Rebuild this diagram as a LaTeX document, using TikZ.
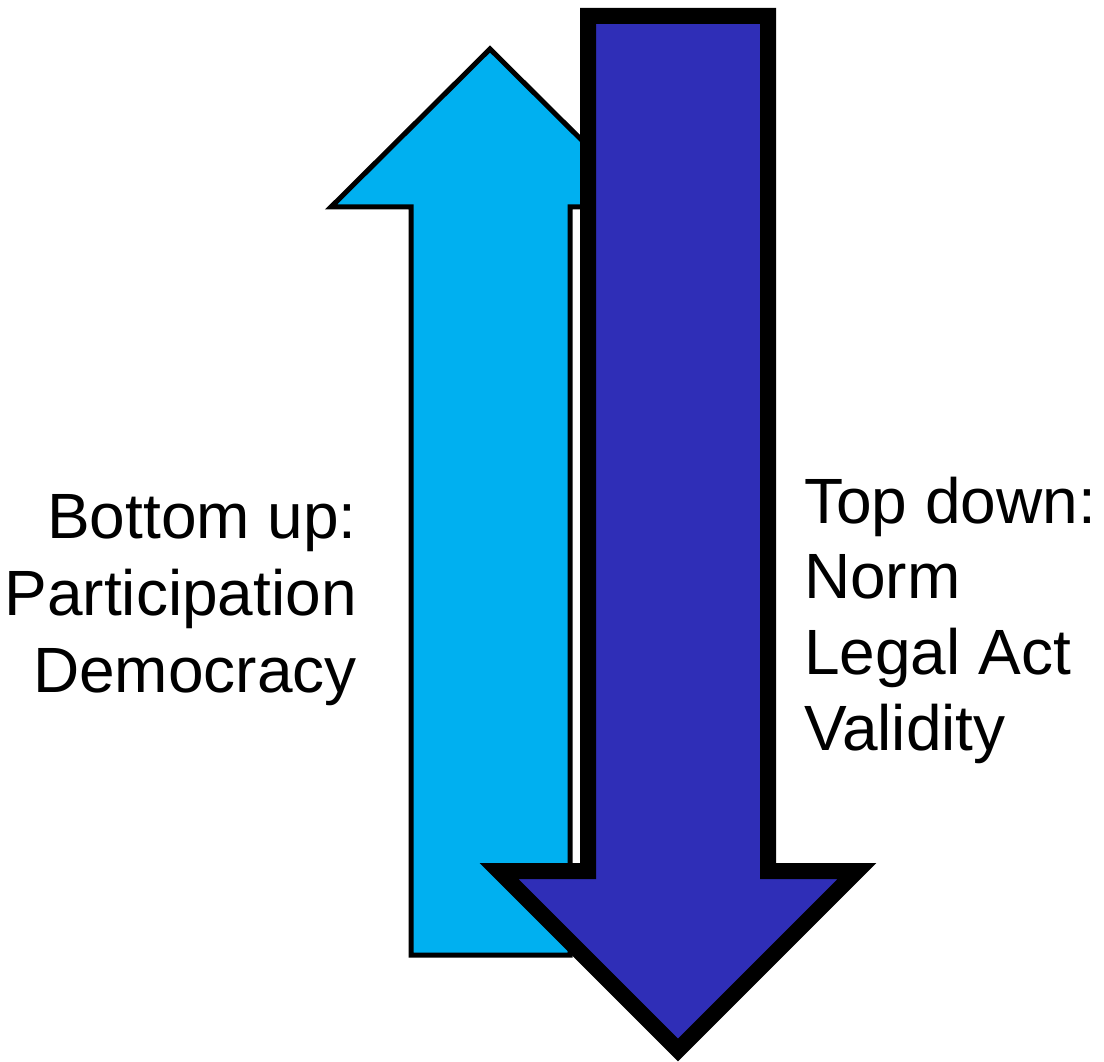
\documentclass[tikz,border=0pt]{standalone}
\usepackage{fontspec}
\setmainfont{Liberation Sans}
\usepackage{tikz}

\definecolor{upblue}{RGB}{0,176,240}
\definecolor{downblue}{RGB}{47,46,183}

\begin{document}
\begin{tikzpicture}[x=1pt,y=-1pt,
        label/.style={inner sep=0pt,font=\fontsize{64}{76}\selectfont}]
        \useasboundingbox (0,0) rectangle (1104,1062);
        % bottom up arrow
        \draw[line width=5pt,fill=upblue,line join=miter] (411,955) -- (411,207) -- (331,207) -- (490,49) -- (649,207) -- (570,207) -- (570,955) -- cycle;
        % top down arrow
        \draw[line width=16pt,fill=downblue,line join=miter] (588,16) -- (768,16) -- (768,871) -- (857,871) -- (678,1050) -- (499,871) -- (588,871) -- cycle;
        \node[label,anchor=base east](b1)at(357,538){Bottom up:};
        \node[label,anchor=base east](b2)at(357,615){Participation};
        \node[label,anchor=base east](b3)at(357,692){Democracy};
        \node[label,anchor=base west](t1)at(804,523){Top down:};
        \node[label,anchor=base west](t2)at(804,598){Norm};
        \node[label,anchor=base west](t3)at(804,674){Legal Act};
        \node[label,anchor=base west](t4)at(804,750){Validity};
    \end{tikzpicture}
\end{document}
